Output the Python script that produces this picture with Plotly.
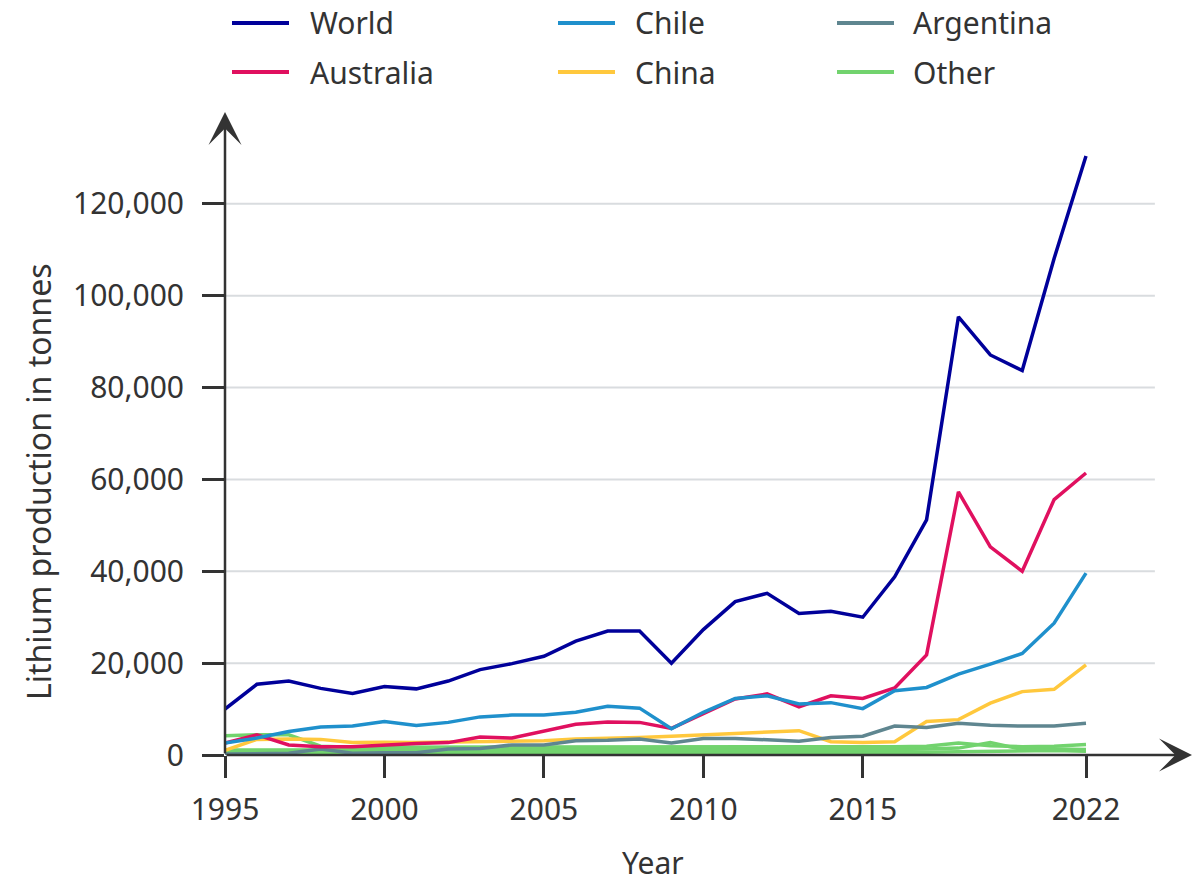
import plotly.graph_objects as go

years = list(range(1995, 2023))

world = [10000, 15400, 16100, 14500, 13400, 14900, 14400, 16100, 18600, 19900,
         21500, 24800, 27000, 27000, 20000, 27300, 33400, 35200, 30800, 31300,
         30000, 38800, 51200, 95400, 87100, 83700, 108100, 130400]
australia = [2600, 4400, 2200, 1800, 1800, 2200, 2500, 2700, 3900, 3700,
             5200, 6700, 7200, 7100, 5800, 9000, 12200, 13300, 10500, 12900,
             12300, 14600, 21800, 57300, 45300, 40000, 55600, 61400]
chile = [2600, 3700, 5100, 6100, 6300, 7300, 6400, 7100, 8300, 8700,
         8700, 9300, 10600, 10200, 5700, 9300, 12300, 12900, 11100, 11400,
         10100, 14000, 14700, 17600, 19800, 22100, 28700, 39600]
china = [1000, 3400, 3500, 3400, 2700, 2800, 2700, 2800, 3000, 3100,
         3100, 3500, 3600, 3800, 4100, 4400, 4700, 5100, 5300, 2900,
         2700, 2900, 7300, 7700, 11300, 13800, 14300, 19600]
argentina = [200, 300, 400, 1300, 400, 500, 500, 1300, 1400, 2200,
             2200, 3100, 3200, 3500, 2600, 3600, 3600, 3300, 3000, 3800,
             4100, 6300, 6000, 6900, 6500, 6300, 6300, 6900]
other_a = [4200, 4400, 4400, 1900, 1700, 1700, 1700, 1700, 1700, 1700,
           1800, 1800, 1800, 1800, 1800, 1800, 1800, 1800, 1800, 1800,
           1800, 1800, 1900, 2600, 2000, 1800, 1900, 2300]
other_b = [1100, 1100, 1100, 1100, 1100, 1100, 1100, 1100, 1100, 1100,
           1200, 1200, 1200, 1200, 1200, 1200, 1200, 1200, 1200, 1200,
           1200, 1200, 1300, 1500, 2700, 1200, 1300, 1200]
other_c = [500, 500, 500, 500, 500, 500, 500, 500, 500, 500,
           600, 600, 600, 600, 600, 600, 600, 600, 600, 600,
           600, 600, 600, 700, 800, 900, 1000, 800]

x_tickvals = [1995, 2000, 2005, 2010, 2015, 2022]
y_tickvals = [0, 20000, 40000, 60000, 80000, 100000, 120000]

C_WORLD = "#00009a"
C_AUS = "#e0105f"
C_CHILE = "#1f90cc"
C_ARG = "#5f8690"
C_CHINA = "#ffc83d"
C_OTHER = "#72d36e"
TXT = "#333333"
FONT = "Noto Sans"

series = [
    ("Other", other_c, C_OTHER),
    ("Other", other_b, C_OTHER),
    ("Other", other_a, C_OTHER),
    ("China", china, C_CHINA),
    ("Argentina", argentina, C_ARG),
    ("Australia", australia, C_AUS),
    ("Chile", chile, C_CHILE),
    ("World", world, C_WORLD),
]

fig = go.Figure()
for name, vals, col in series:
    fig.add_trace(go.Scatter(x=years, y=vals, mode="lines", name=name,
                             line=dict(color=col, width=3.5), showlegend=False))

# plot-area geometry in pixels
L, R, T, B = 225, 1192, 112, 755
W, H = R - L, B - T

def px(xp):
    return (xp - L) / W

def py(yp):
    return (B - yp) / H

shapes = []
for v in y_tickvals[1:]:
    shapes.append(dict(type="line", xref="x", yref="y", x0=1995, x1=2024.16,
                       y0=v, y1=v, line=dict(color="#d9dcdf", width=2),
                       layer="below"))

# manual legend
legend_items = [
    ("World", C_WORLD, 232, 308, 23),
    ("Chile", C_CHILE, 558, 633, 23),
    ("Argentina", C_ARG, 837, 911, 23),
    ("Australia", C_AUS, 232, 308, 72),
    ("China", C_CHINA, 558, 633, 72),
    ("Other", C_OTHER, 837, 911, 72),
]
annotations = []
for name, col, lx, tx, ly in legend_items:
    shapes.append(dict(type="line", xref="paper", yref="paper",
                       x0=px(lx), x1=px(lx + 57), y0=py(ly), y1=py(ly),
                       line=dict(color=col, width=4)))
    annotations.append(dict(text=name, xref="paper", yref="paper", x=px(tx),
                            y=py(ly), xanchor="left", yanchor="middle",
                            showarrow=False, font=dict(size=30, color=TXT, family=FONT)))

# axis arrows
annotations.append(dict(text="", xref="paper", yref="paper", x=1, y=0,
                        ax=-W, ay=0, axref="pixel", ayref="pixel", showarrow=True,
                        arrowhead=3, arrowsize=2.2, arrowwidth=2.5, arrowcolor=TXT,
                        standoff=0, startstandoff=0))
annotations.append(dict(text="", xref="paper", yref="paper", x=0, y=1,
                        ax=0, ay=H, axref="pixel", ayref="pixel", showarrow=True,
                        arrowhead=3, arrowsize=2.2, arrowwidth=2.5, arrowcolor=TXT,
                        standoff=0, startstandoff=0))

# axis titles
annotations.append(dict(text="Year", xref="paper", yref="paper", x=px(653),
                        y=py(862), xanchor="center", yanchor="middle",
                        showarrow=False, font=dict(size=30, color=TXT, family=FONT)))
annotations.append(dict(text="Lithium production in tonnes", xref="paper",
                        yref="paper", x=px(38), y=py(482), textangle=-90,
                        xanchor="center", yanchor="middle", showarrow=False,
                        font=dict(size=32, color=TXT, family=FONT)))

fig.update_layout(
    width=1200, height=891, autosize=False,
    margin=dict(l=L, r=1200 - R, t=T, b=891 - B, pad=0),
    paper_bgcolor="white", plot_bgcolor="white",
    font=dict(family=FONT, color=TXT, size=30),
    showlegend=False,
    shapes=shapes, annotations=annotations,
    xaxis=dict(range=[1995, 1995 + 27 * W / (1086 - L)], tickvals=x_tickvals,
               ticks="outside", ticklen=22, tickwidth=2.5, tickcolor=TXT,
               showline=False, showgrid=False, zeroline=False,
               tickfont=dict(size=30, color=TXT, family=FONT),
               ticklabelstandoff=6, fixedrange=True),
    yaxis=dict(range=[0, 140000], tickvals=y_tickvals, tickformat=",",
               ticks="outside", ticklen=22, tickwidth=2.5, tickcolor=TXT,
               showline=False, showgrid=False, zeroline=False,
               tickfont=dict(size=30, color=TXT, family=FONT),
               ticklabelstandoff=12, fixedrange=True),
)

fig.write_html("out.html")
